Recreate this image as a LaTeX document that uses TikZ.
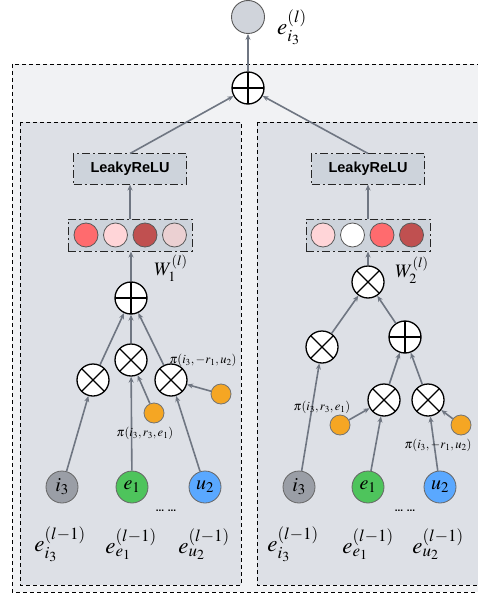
\documentclass[tikz,border=0pt]{standalone}
\usepackage{mathptmx}
\usepackage{fontspec}
\setsansfont{Liberation Sans}
\usetikzlibrary{arrows.meta}
\definecolor{outerfill}{HTML}{F1F2F4}
\definecolor{panelfill}{HTML}{DDE0E6}
\definecolor{boxfill}{HTML}{CDD3DB}
\definecolor{topfill}{HTML}{D0D4DB}
\definecolor{arrgray}{HTML}{6F7682}
\definecolor{orangec}{HTML}{F5A623}
\definecolor{grayc}{HTML}{9A9EA6}
\definecolor{greenc}{HTML}{4EC45C}
\definecolor{bluec}{HTML}{5AA8FF}
\definecolor{wred}{HTML}{FF6B6E}
\definecolor{wpink}{HTML}{FFD5D8}
\definecolor{wdark}{HTML}{C05050}
\definecolor{wpale}{HTML}{EBD0D2}
\tikzset{
  outerbox/.style={draw=black, fill=outerfill, line width=0.9pt, dash pattern=on 4pt off 3pt},
  panel/.style={draw=black, fill=panelfill, line width=0.9pt, dash pattern=on 4pt off 3pt},
  dashbox/.style={draw=black!85, fill=boxfill, line width=1pt, dash pattern=on 8pt off 3pt on 2pt off 3pt, minimum width=113pt, minimum height=30pt, inner sep=0pt},
  wbox/.style={draw=black!85, fill=boxfill, line width=1pt, dash pattern=on 8pt off 3pt on 2pt off 3pt, minimum width=124pt, minimum height=32pt, inner sep=0pt},
  wcirc/.style={circle, draw=black!65, line width=0.8pt, minimum size=24pt, inner sep=0pt},
  opnode/.style={circle, draw=black, fill=white, line width=1.3pt, minimum size=32pt, inner sep=0pt},
  oplusnode/.style={opnode, path picture={
      \draw[line width=1.3pt] (path picture bounding box.north) -- (path picture bounding box.south);
      \draw[line width=1.3pt] (path picture bounding box.west) -- (path picture bounding box.east);}},
  otimesnode/.style={opnode, path picture={
      \draw[line width=1.3pt] (path picture bounding box.north west) -- (path picture bounding box.south east);
      \draw[line width=1.3pt] (path picture bounding box.north east) -- (path picture bounding box.south west);}},
  entnode/.style={circle, draw=black!60, line width=0.8pt, minimum size=32pt, inner sep=0pt, font=\fontsize{20}{22}\selectfont},
  orangenode/.style={circle, draw=black!55, fill=orangec, line width=0.8pt, minimum size=20pt, inner sep=0pt},
  arr/.style={draw=arrgray, line width=1.6pt, -{Stealth[length=6pt,width=5pt]}},
  pilabel/.style={font=\fontsize{12.5}{14}\selectfont, inner sep=0pt},
  elabel/.style={font=\fontsize{23}{26}\selectfont, inner sep=0pt},
  wlabel/.style={font=\fontsize{19}{22}\selectfont, inner sep=0pt},
  dotlabel/.style={font=\sffamily\bfseries\fontsize{10}{12}\selectfont, inner sep=0pt},
  relutext/.style={font=\sffamily\bfseries\fontsize{14.5}{16}\selectfont}
}
\begin{document}
\begin{tikzpicture}[x=1pt,y=-1pt]
\useasboundingbox (0,0) rectangle (478,596);
\begin{scope}
\clip (0,0) rectangle (478,596);
\draw[outerbox] (12,64) rectangle (520,592);
\draw[panel] (20,122) rectangle (241,585);
\draw[panel] (257,122) rectangle (520,585);
\end{scope}

% top
\node[circle, draw=black!65, fill=topfill, line width=0.9pt, minimum size=33pt, inner sep=0pt] (top) at (248,17) {};
\node[elabel] (toplab) at (292,27) {$e_{i_3}^{(l)}$};
\node[oplusnode] (oplus0) at (248,88) {};

% ---------- left panel ----------
\node[dashbox] (lrelu1) at (130,169) {};
\node[relutext] (lrelutext1) at (lrelu1) {LeakyReLU};
\node[wbox] (w1) at (130,235) {};
\node[wcirc, fill=wred] (w1a) at (86,235) {};
\node[wcirc, fill=wpink] (w1b) at (115.5,235) {};
\node[wcirc, fill=wdark] (w1c) at (145,235) {};
\node[wcirc, fill=wpale] (w1d) at (174.5,235) {};
\node[wlabel] (w1lab) at (171,268) {$W_1^{(l)}$};
\node[oplusnode] (opL) at (131,298) {};
\node[otimesnode] (otLM) at (131,360) {};
\node[otimesnode] (otLL) at (93,380) {};
\node[otimesnode] (otLR) at (171,380) {};
\node[orangenode] (orLM) at (154,413) {};
\node[orangenode] (orLR) at (221,394) {};
\node[entnode, fill=grayc] (iL) at (62,487) {$i_3$};
\node[entnode, fill=greenc] (eL) at (132,487) {$e_1$};
\node[entnode, fill=bluec] (uL) at (205,487) {$u_2$};
\node[dotlabel] (dotsL) at (166,511) {... ...};
\node[elabel] (labiL) at (60,544) {$e_{i_3}^{(l-1)}$};
\node[elabel] (labeL) at (131,544) {$e_{e_1}^{(l-1)}$};
\node[elabel] (labuL) at (204,544) {$e_{u_2}^{(l-1)}$};

\draw[arr] (iL) -- (otLL);
\draw[arr] (eL) -- (otLM);
\draw[arr] (uL) -- (otLR);
\draw[arr] (orLM) -- (otLM);
\draw[arr] (orLR) -- (otLR);
\draw[arr] (otLL) -- (opL);
\draw[arr] (otLM) -- (opL);
\draw[arr] (otLR) -- (opL);
\draw[arr] (opL) -- (w1.south -| opL);
\draw[arr] (w1.north -| lrelu1) -- (lrelu1.south);
\draw[arr] (lrelu1.north) -- (oplus0);
\node[pilabel] (piLM) at (145,433) {$\pi(i_3,r_3,e_1)$};
\node[pilabel] (piLR) at (203,360) {$\pi(i_3,-r_1,u_2)$};

% ---------- right panel ----------
\node[dashbox] (lrelu2) at (368,169) {};
\node[relutext] (lrelutext2) at (lrelu2) {LeakyReLU};
\node[wbox] (w2) at (368,235) {};
\node[wcirc, fill=wpink] (w2a) at (323,235) {};
\node[wcirc, fill=white] (w2b) at (352.5,235) {};
\node[wcirc, fill=wred] (w2c) at (382,235) {};
\node[wcirc, fill=wdark] (w2d) at (411.5,235) {};
\node[wlabel] (w2lab) at (412,270) {$W_2^{(l)}$};
\node[otimesnode] (otRT) at (368,282) {};
\node[otimesnode] (otRL) at (322,347) {};
\node[oplusnode] (opR) at (405,337) {};
\node[otimesnode] (otRA) at (384,400) {};
\node[otimesnode] (otRB) at (428,400) {};
\node[orangenode] (orRA) at (340,425) {};
\node[orangenode] (orRB) at (461,425) {};
\node[entnode, fill=grayc] (iR) at (299,487) {$i_3$};
\node[entnode, fill=greenc] (eR) at (368,487) {$e_1$};
\node[entnode, fill=bluec] (uR) at (440,487) {$u_2$};
\node[dotlabel] (dotsR) at (405,511) {... ...};
\node[elabel] (labiR) at (293,544) {$e_{i_3}^{(l-1)}$};
\node[elabel] (labeR) at (368,544) {$e_{e_1}^{(l-1)}$};
\node[elabel] (labuR) at (438,544) {$e_{u_2}^{(l-1)}$};

\draw[arr] (iR) -- (otRL);
\draw[arr] (eR) -- (otRA);
\draw[arr] (uR) -- (otRB);
\draw[arr] (orRA) -- (otRA);
\draw[arr] (orRB) -- (otRB);
\draw[arr] (otRA) -- (opR);
\draw[arr] (otRB) -- (opR);
\draw[arr] (opR) -- (otRT);
\draw[arr] (otRL) -- (otRT);
\draw[arr] (otRT) -- (w2.south -| otRT);
\draw[arr] (w2.north -| lrelu2) -- (lrelu2.south);
\draw[arr] (lrelu2.north) -- (oplus0);
\node[pilabel] (piRA) at (322,407) {$\pi(i_3,r_3,e_1)$};
\node[pilabel] (piRB) at (438,445) {$\pi(i_3,-r_1,u_2)$};

\draw[arr] (oplus0) -- (top);
\end{tikzpicture}
\end{document}
